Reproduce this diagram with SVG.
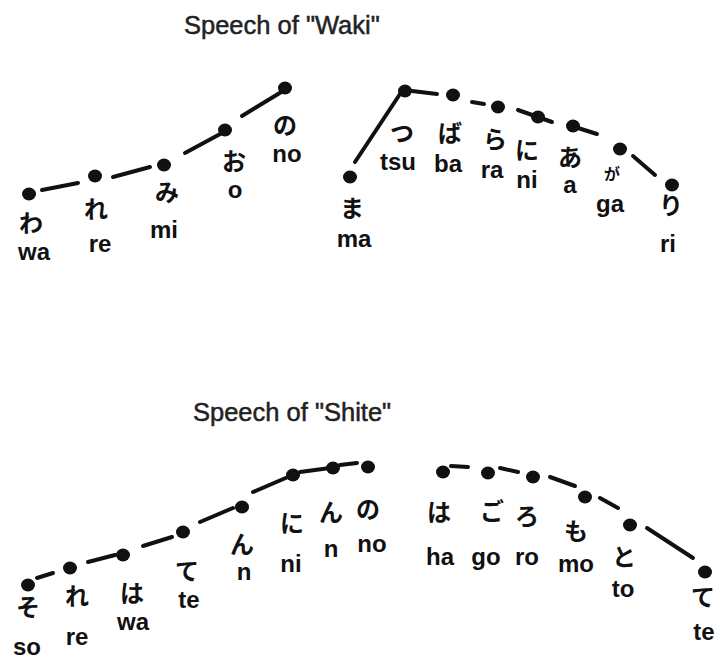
<svg xmlns="http://www.w3.org/2000/svg" width="720" height="659" viewBox="0 0 720 659">
<style>
.title{font-family:"Liberation Sans",Arial,sans-serif;font-size:25.5px;fill:#222;stroke:#222;stroke-width:0.5}
.dot{fill:#111}
.kana{font-family:"Noto Sans CJK JP",sans-serif;font-size:24px;font-weight:bold;fill:#111;text-anchor:middle}
.rom{font-family:"Liberation Sans",Arial,sans-serif;font-size:24px;font-weight:bold;fill:#111;text-anchor:middle}
.seg{stroke:#111;stroke-width:4;stroke-linecap:round;fill:none}
</style>
<rect width="720" height="659" fill="#fff"/>
<text class="title" x="184" y="34">Speech of "Waki"</text>
<text class="title" x="193" y="421">Speech of "Shite"</text>
<g id="connectors">
<line class="seg" x1="42" y1="190" x2="78" y2="183"/>
<line class="seg" x1="113" y1="177" x2="150" y2="167"/>
<line class="seg" x1="185" y1="153" x2="222" y2="133"/>
<line class="seg" x1="242" y1="116" x2="283" y2="91"/>
<line class="seg" x1="355" y1="162" x2="400" y2="94"/>
<line class="seg" x1="412" y1="91" x2="437" y2="94"/>
<line class="seg" x1="472" y1="102" x2="484" y2="104"/>
<line class="seg" x1="518" y1="110" x2="552" y2="122"/>
<line class="seg" x1="578" y1="128" x2="597" y2="134"/>
<line class="seg" x1="633" y1="156" x2="655" y2="175"/>
<line class="seg" x1="37" y1="578" x2="53" y2="573"/>
<line class="seg" x1="88" y1="562" x2="115" y2="555"/>
<line class="seg" x1="143" y1="546" x2="172" y2="537"/>
<line class="seg" x1="200" y1="522" x2="233" y2="508"/>
<line class="seg" x1="253" y1="492" x2="288" y2="477"/>
<line class="seg" x1="300" y1="472" x2="330" y2="468"/>
<line class="seg" x1="340" y1="465" x2="357" y2="463"/>
<line class="seg" x1="451" y1="466" x2="468" y2="467"/>
<line class="seg" x1="500" y1="468" x2="518" y2="472"/>
<line class="seg" x1="550" y1="477" x2="575" y2="486"/>
<line class="seg" x1="600" y1="498" x2="618" y2="508"/>
<line class="seg" x1="647" y1="528" x2="693" y2="558"/>
</g>
<g id="waki-wa"><ellipse class="dot" cx="29" cy="194" rx="7" ry="6.5"/><text class="kana" x="31" y="232">わ</text><text class="rom" x="34" y="260">wa</text></g>
<g id="waki-re"><ellipse class="dot" cx="95" cy="176" rx="7" ry="6.5"/><text class="kana" x="96" y="218">れ</text><text class="rom" x="100" y="252">re</text></g>
<g id="waki-mi"><ellipse class="dot" cx="164" cy="165" rx="7" ry="6.5"/><text class="kana" x="167" y="201">み</text><text class="rom" x="164" y="238">mi</text></g>
<g id="waki-o"><ellipse class="dot" cx="225" cy="130" rx="7" ry="6.5"/><text class="kana" x="234" y="170">お</text><text class="rom" x="235" y="198">o</text></g>
<g id="waki-no"><ellipse class="dot" cx="285" cy="88" rx="7" ry="6.5"/><text class="kana" x="285" y="134">の</text><text class="rom" x="287" y="162">no</text></g>
<g id="waki-ma"><ellipse class="dot" cx="350" cy="177" rx="7" ry="6.5"/><text class="kana" x="352" y="217">ま</text><text class="rom" x="354" y="247">ma</text></g>
<g id="waki-tsu"><ellipse class="dot" cx="405" cy="91" rx="7" ry="6.5"/><text class="kana" x="402" y="142">つ</text><text class="rom" x="398" y="170">tsu</text></g>
<g id="waki-ba"><ellipse class="dot" cx="453" cy="95" rx="7" ry="6.5"/><text class="kana" x="450" y="142">ば</text><text class="rom" x="448" y="172">ba</text></g>
<g id="waki-ra"><ellipse class="dot" cx="498" cy="107" rx="7" ry="6.5"/><text class="kana" x="495" y="148">ら</text><text class="rom" x="492" y="178">ra</text></g>
<g id="waki-ni"><ellipse class="dot" cx="538" cy="117" rx="7" ry="6.5"/><text class="kana" x="527" y="159">に</text><text class="rom" x="527" y="188">ni</text></g>
<g id="waki-a"><ellipse class="dot" cx="573" cy="126" rx="7" ry="6.5"/><text class="kana" x="570" y="166">あ</text><text class="rom" x="570" y="193">a</text></g>
<g id="waki-ga"><ellipse class="dot" cx="620" cy="149" rx="7" ry="6.5"/><text class="kana" x="612" y="180" style="font-size:16px">が</text><text class="rom" x="610" y="212">ga</text></g>
<g id="waki-ri"><ellipse class="dot" cx="672" cy="185" rx="7" ry="6.5"/><text class="kana" x="671" y="214">り</text><text class="rom" x="668" y="252">ri</text></g>
<g id="shite-so"><ellipse class="dot" cx="28" cy="585" rx="7" ry="6.5"/><text class="kana" x="28" y="616">そ</text><text class="rom" x="27" y="655">so</text></g>
<g id="shite-re"><ellipse class="dot" cx="70" cy="568" rx="7" ry="6.5"/><text class="kana" x="77" y="605">れ</text><text class="rom" x="77" y="645">re</text></g>
<g id="shite-wa"><ellipse class="dot" cx="123" cy="555" rx="7" ry="6.5"/><text class="kana" x="132" y="602">は</text><text class="rom" x="133" y="630">wa</text></g>
<g id="shite-te"><ellipse class="dot" cx="183" cy="532" rx="7" ry="6.5"/><text class="kana" x="187" y="580">て</text><text class="rom" x="189" y="608">te</text></g>
<g id="shite-n1"><ellipse class="dot" cx="242" cy="507" rx="7" ry="6.5"/><text class="kana" x="242" y="553">ん</text><text class="rom" x="244" y="580">n</text></g>
<g id="shite-ni"><ellipse class="dot" cx="293" cy="475" rx="7" ry="6.5"/><text class="kana" x="292" y="532">に</text><text class="rom" x="291" y="572">ni</text></g>
<g id="shite-n2"><ellipse class="dot" cx="333" cy="468" rx="7" ry="6.5"/><text class="kana" x="331" y="521">ん</text><text class="rom" x="331" y="557">n</text></g>
<g id="shite-no"><ellipse class="dot" cx="368" cy="467" rx="7" ry="6.5"/><text class="kana" x="368" y="518">の</text><text class="rom" x="372" y="552">no</text></g>
<g id="shite-ha"><ellipse class="dot" cx="443" cy="472" rx="7" ry="6.5"/><text class="kana" x="439" y="521">は</text><text class="rom" x="440" y="565">ha</text></g>
<g id="shite-go"><ellipse class="dot" cx="488" cy="473" rx="7" ry="6.5"/><text class="kana" x="492" y="520">ご</text><text class="rom" x="486" y="565">go</text></g>
<g id="shite-ro"><ellipse class="dot" cx="533" cy="477" rx="7" ry="6.5"/><text class="kana" x="527" y="525">ろ</text><text class="rom" x="527" y="565">ro</text></g>
<g id="shite-mo"><ellipse class="dot" cx="585" cy="497" rx="7" ry="6.5"/><text class="kana" x="576" y="540">も</text><text class="rom" x="576" y="572">mo</text></g>
<g id="shite-to"><ellipse class="dot" cx="630" cy="525" rx="7" ry="6.5"/><text class="kana" x="624" y="566">と</text><text class="rom" x="623" y="597">to</text></g>
<g id="shite-te2"><ellipse class="dot" cx="705" cy="572" rx="7" ry="6.5"/><text class="kana" x="703" y="606">て</text><text class="rom" x="704" y="640">te</text></g>
</svg>
